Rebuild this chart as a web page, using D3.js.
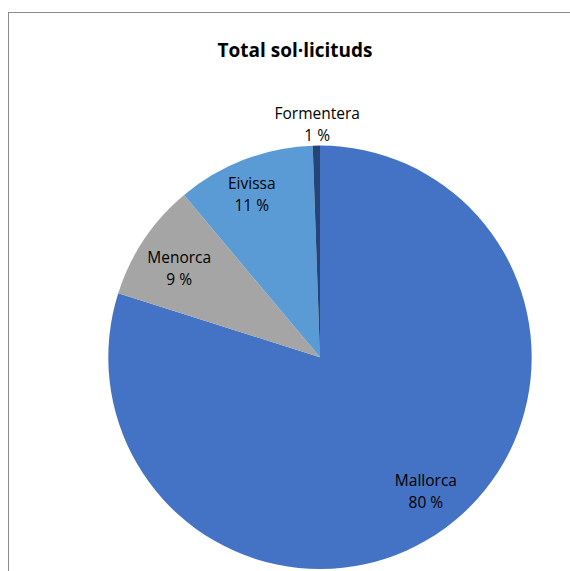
<!DOCTYPE html>
<html>
<head>
<meta charset="utf-8">
<script src="https://cdn.jsdelivr.net/npm/d3@7"></script>
<style>
  html, body { margin: 0; padding: 0; background: #fff; }
  svg { display: block; }
</style>
</head>
<body>
<svg id="chart" width="570" height="571"></svg>
<script>
const title = "Total sol·licituds";
const categories = ["Mallorca", "Menorca", "Eivissa", "Formentera"];
const values = [1598, 180, 211, 11];
const colors = ["#4472C4", "#A5A5A5", "#5B9BD5", "#264478"];

const W = 570, H = 571;
const cx = 320, cy = 357.3, r = 211.7;
const font = "'Open Sans', 'Noto Sans', sans-serif";
// label placement: distance from centre (fraction of radius) and angle nudge (degrees)
const labelRadius = { "Mallorca": 0.802, "Menorca": 0.79, "Eivissa": 0.84, "Formentera": 1.105 };
const labelNudge = { "Mallorca": -2.4, "Menorca": -1.2, "Eivissa": -1.6, "Formentera": 0.3 };

const svg = d3.select("#chart");

// chart area border
svg.append("rect")
  .attr("x", 8.5).attr("y", 12.5)
  .attr("width", 600).attr("height", 600)
  .attr("fill", "#fff")
  .attr("stroke", "#8c8c8c").attr("stroke-width", 1);

svg.append("text")
  .attr("x", 295).attr("y", 56.7)
  .attr("text-anchor", "middle")
  .attr("font-family", font)
  .attr("font-weight", "bold")
  .attr("font-size", 19)
  .attr("fill", "#000")
  .text(title);

const data = categories.map((c, i) => ({ name: c, value: values[i], color: colors[i] }));
const total = d3.sum(values);

const pie = d3.pie().value(d => d.value).sort(null);
const arc = d3.arc().innerRadius(0).outerRadius(r);
const arcs = pie(data);

const g = svg.append("g").attr("transform", `translate(${cx},${cy})`);

g.selectAll("path")
  .data(arcs)
  .join("path")
  .attr("d", arc)
  .attr("fill", d => d.data.color);

const labels = g.selectAll("g.lbl")
  .data(arcs)
  .join("g")
  .attr("class", "lbl")
  .attr("transform", d => {
    const lr = r * labelRadius[d.data.name];
    const a = (d.startAngle + d.endAngle) / 2 + labelNudge[d.data.name] * Math.PI / 180;
    const p = d3.pointRadial(a, lr);
    return `translate(${p[0]},${p[1]})`;
  });

labels.append("text")
  .attr("text-anchor", "middle")
  .attr("font-family", font)
  .attr("font-size", 15.5)
  .attr("fill", "#000")
  .selectAll("tspan")
  .data(d => [d.data.name, Math.round(d.data.value / total * 100) + " %"])
  .join("tspan")
  .attr("x", 0)
  .attr("y", (d, i) => i === 0 ? -4 : 17.5)
  .text(d => d);
</script>
</body>
</html>
